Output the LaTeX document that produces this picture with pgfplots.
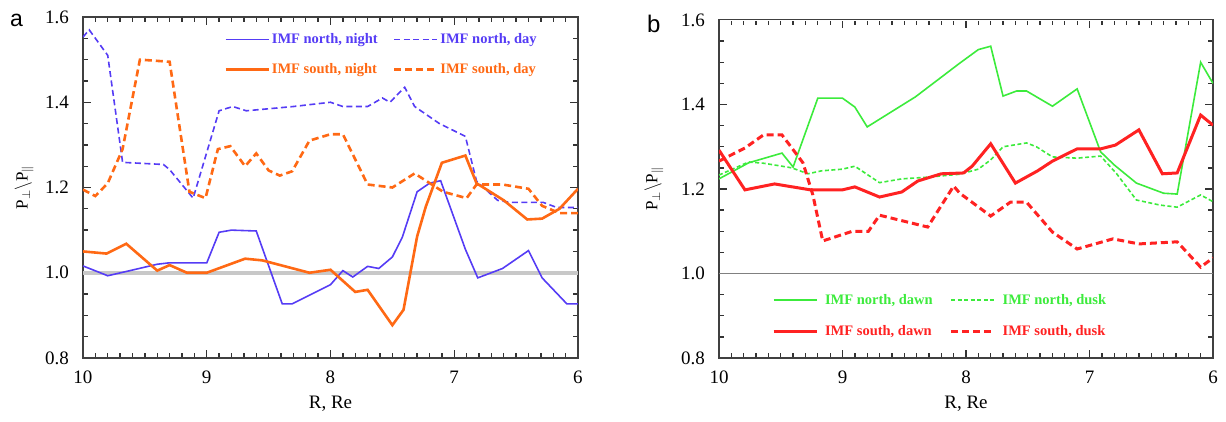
\documentclass[border=0pt]{standalone}
\usepackage{pgfplots}
\pgfplotsset{compat=1.18}
\usepackage{fontspec}
\setmainfont{Liberation Serif}
\newfontfamily\panelfont{Liberation Sans}
\definecolor{cblue}{RGB}{85,60,245}
\definecolor{corange}{RGB}{255,105,20}
\definecolor{cgreen}{RGB}{60,235,60}
\definecolor{cred}{RGB}{255,34,34}
\pgfplotsset{
 myaxis/.style={
  scale only axis, x dir=reverse, xmin=6, xmax=10, ymin=0.8, ymax=1.6,
  xtick={6,7,8,9,10}, ytick={0.8,1.0,1.2,1.4,1.6},
  minor x tick num=9, minor y tick num=3,
  axis line style={black!75, line width=1.3pt},
  /pgf/number format/assume math mode=true,
  ticklabel style={font=\fontsize{19}{19}\selectfont},
  y tick label style={/pgf/number format/.cd, fixed, fixed zerofill, precision=1, /tikz/.cd, inner sep=0pt, xshift=-14pt},
  x tick label style={inner sep=0pt, yshift=-13pt},
  xlabel={R, Re},
  xlabel style={at={(axis description cs:0.5,-0.111)}, anchor=north, inner sep=0pt, font=\fontsize{19}{19}\selectfont},
  ylabel={$\mathrm{P}_{\perp}\backslash\mathrm{P}_{\parallel}$},
  legend columns=2,
  legend image code/.code={\draw[##1] (0pt,0pt) -- (43pt,0pt);},
  major tick length=8pt, minor tick length=5pt,
  tick style={black!80, line width=1.3pt},
 }}
\begin{document}
\begin{tikzpicture}
\path[use as bounding box] (0,0) rectangle (1226pt,421pt);
\node[anchor=base west, inner sep=0pt, font=\panelfont\fontsize{23}{23}\selectfont] at (10pt,394pt) {a};
\node[anchor=base west, inner sep=0pt, font=\panelfont\fontsize{24}{24}\selectfont] at (647pt,388pt) {b};
% ---------------- panel a
\begin{axis}[myaxis, at={(83pt,63pt)}, anchor=south west, width=495pt, height=341pt,
  ylabel style={at={(axis description cs:-0.119,0.5)}, anchor=center, font=\fontsize{17}{17}\selectfont},
  legend style={draw=none, fill=none, at={(0.285,0.957)}, anchor=north west, inner sep=0pt,
    font=\bfseries\fontsize{14.5}{14.5}\selectfont, row sep=14pt,
    /tikz/every even column/.append style={column sep=13pt}, cells={anchor=west}}]
\addplot[forget plot, color={rgb,255:red,200;green,200;blue,200}, line width=4pt] coordinates {(6,1) (10,1)};
\addplot[cblue, line width=1.6pt] coordinates {
(10,1.016)(9.8,0.993)(9.62,1.005)(9.4,1.02)(9.31,1.023)(9.0,1.023)(8.9,1.095)(8.8,1.10)(8.6,1.098)(8.39,0.927)(8.31,0.927)(8.0,0.972)(7.9,1.005)(7.82,0.99)(7.7,1.015)(7.61,1.01)(7.5,1.037)(7.42,1.083)(7.3,1.19)(7.2,1.21)(7.11,1.216)(6.91,1.055)(6.81,0.988)(6.61,1.01)(6.4,1.052)(6.29,0.988)(6.09,0.927)(6,0.927)};
\addlegendentry{\textcolor{cblue}{IMF north, night}}
\addplot[cblue, line width=1.6pt, dash pattern=on 6pt off 3.5pt] coordinates {
(10,1.553)(9.95,1.57)(9.8,1.51)(9.68,1.259)(9.35,1.254)(9.3,1.242)(9.11,1.175)(8.9,1.38)(8.79,1.39)(8.68,1.38)(8.3,1.39)(8.0,1.40)(7.9,1.39)(7.7,1.39)(7.58,1.41)(7.52,1.40)(7.4,1.435)(7.32,1.39)(7.12,1.35)(6.91,1.32)(6.82,1.215)(6.65,1.17)(6.55,1.165)(6.28,1.165)(6.17,1.153)(6,1.153)};
\addlegendentry{\textcolor{cblue}{IMF north, day}}
\addplot[corange, line width=2.6pt] coordinates {
(10,1.05)(9.81,1.045)(9.65,1.068)(9.4,1.005)(9.3,1.018)(9.16,1.0)(9.0,1.0)(8.69,1.033)(8.55,1.029)(8.17,1.0)(8.0,1.007)(7.8,0.955)(7.7,0.96)(7.5,0.877)(7.41,0.913)(7.3,1.085)(7.23,1.155)(7.1,1.258)(6.91,1.275)(6.82,1.21)(6.6,1.17)(6.41,1.125)(6.29,1.127)(6.15,1.15)(6,1.197)};
\addlegendentry{\textcolor{corange}{IMF south, night}}
\addplot[corange, line width=2.6pt, dash pattern=on 7pt off 4pt] coordinates {
(10,1.195)(9.9,1.18)(9.8,1.21)(9.68,1.29)(9.54,1.50)(9.3,1.495)(9.14,1.19)(9.01,1.175)(8.91,1.29)(8.81,1.297)(8.69,1.25)(8.6,1.28)(8.5,1.24)(8.41,1.228)(8.31,1.238)(8.17,1.31)(8.0,1.325)(7.9,1.325)(7.7,1.207)(7.5,1.20)(7.32,1.233)(7.09,1.19)(6.9,1.175)(6.82,1.207)(6.61,1.207)(6.4,1.197)(6.29,1.157)(6.15,1.14)(6,1.14)};
\addlegendentry{\textcolor{corange}{IMF south, day}}
\end{axis}
% ---------------- panel b
\begin{axis}[myaxis, at={(719pt,63pt)}, anchor=south west, width=494pt, height=338pt,
  ylabel style={at={(axis description cs:-0.1316,0.5)}, anchor=center, font=\fontsize{17}{17}\selectfont},
  legend style={draw=none, fill=none, at={(0.107,0.196)}, anchor=north west, inner sep=0pt,
    font=\bfseries\fontsize{14.5}{14.5}\selectfont, row sep=16pt,
    /tikz/every odd column/.append style={column sep=5pt},
    /tikz/every even column/.append style={column sep=15pt}, cells={anchor=west}}]
\addplot[forget plot, color=black!50, line width=1pt] coordinates {(6,1) (10,1)};
\addplot[cgreen, line width=1.6pt] coordinates {
(10,1.224)(9.76,1.262)(9.49,1.285)(9.4,1.252)(9.2,1.415)(9.0,1.415)(8.9,1.394)(8.8,1.347)(8.41,1.418)(8.05,1.498)(7.9,1.53)(7.8,1.538)(7.7,1.42)(7.59,1.432)(7.51,1.432)(7.3,1.396)(7.1,1.437)(6.91,1.288)(6.8,1.257)(6.62,1.214)(6.4,1.19)(6.29,1.188)(6.1,1.50)(6,1.45)};
\addlegendentry{\textcolor{cgreen}{IMF north, dawn}}
\addplot[cgreen, line width=1.6pt, dash pattern=on 4pt off 2.5pt] coordinates {
(10,1.233)(9.76,1.264)(9.64,1.261)(9.49,1.254)(9.41,1.25)(9.28,1.236)(9.17,1.243)(9.0,1.247)(8.9,1.254)(8.7,1.215)(8.52,1.224)(8.31,1.228)(8.05,1.235)(7.9,1.247)(7.8,1.269)(7.7,1.30)(7.51,1.309)(7.43,1.30)(7.3,1.276)(7.1,1.273)(6.91,1.278)(6.78,1.236)(6.62,1.174)(6.43,1.162)(6.29,1.157)(6.1,1.186)(6,1.17)};
\addlegendentry{\textcolor{cgreen}{IMF north, dusk}}
\addplot[cred, line width=3pt] coordinates {
(10,1.292)(9.79,1.198)(9.55,1.212)(9.26,1.198)(9.0,1.198)(8.9,1.205)(8.7,1.181)(8.52,1.193)(8.39,1.219)(8.2,1.236)(8.02,1.238)(7.95,1.254)(7.8,1.307)(7.6,1.214)(7.42,1.243)(7.3,1.266)(7.1,1.295)(6.91,1.295)(6.79,1.304)(6.6,1.34)(6.41,1.236)(6.29,1.238)(6.1,1.375)(6,1.351)};
\addlegendentry{\textcolor{cred}{IMF south, dawn}}
\addplot[cred, line width=3pt, dash pattern=on 7pt off 4pt] coordinates {
(10,1.266)(9.79,1.297)(9.64,1.328)(9.49,1.328)(9.32,1.262)(9.24,1.186)(9.16,1.077)(8.92,1.10)(8.79,1.10)(8.7,1.138)(8.31,1.11)(8.1,1.207)(8.05,1.19)(7.8,1.136)(7.64,1.169)(7.51,1.169)(7.3,1.098)(7.1,1.058)(6.81,1.082)(6.6,1.07)(6.29,1.075)(6.1,1.015)(6,1.037)};
\addlegendentry{\textcolor{cred}{IMF south, dusk}}
\draw[white, line width=2.2pt] (rel axis cs:0.003,1) -- (rel axis cs:0.997,1);
\end{axis}
\end{tikzpicture}
\end{document}
